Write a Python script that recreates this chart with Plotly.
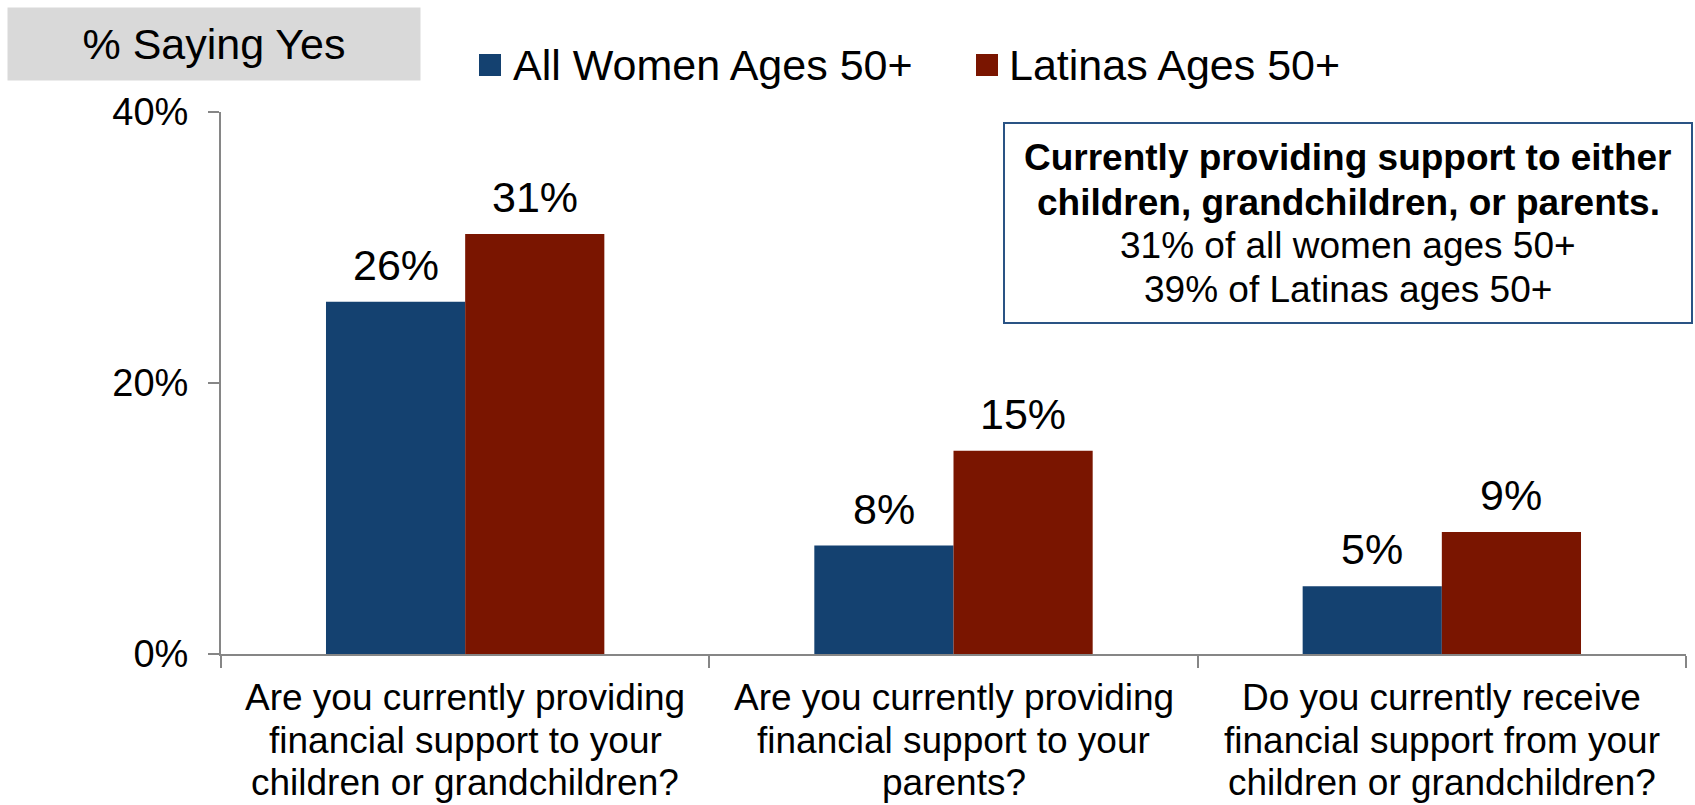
import plotly.graph_objects as go

# ---- data ----
categories = [
    "Are you currently providing<br>financial support to your<br>children or grandchildren?",
    "Are you currently providing<br>financial support to your<br>parents?",
    "Do you currently receive<br>financial support from your<br>children or grandchildren?",
]
series_names = ["All Women Ages 50+", "Latinas Ages 50+"]
all_women = [26, 8, 5]
latinas = [31, 15, 9]
y_tick_vals = [0, 20, 40]
y_tick_text = ["0%", "20%", "40%"]
header_text = "% Saying Yes"
box_lines = [
    "<b>Currently providing support to either</b>",
    "<b>children, grandchildren, or parents.</b>",
    "31% of all women ages 50+",
    "39% of Latinas ages 50+",
]

# ---- style ----
FONT = "Arial, Liberation Sans, sans-serif"
BLUE = "#144170"
RED = "#7A1500"
AXIS = "#868686"
BOXLINE = "#2A5384"
COLORS = [BLUE, RED]
BARGAP = 0.43
W, H = 1695, 805
ML, MR, MT, MB = 221, 9, 112, 151
PW = W - ML - MR
PH = H - MT - MB


def px_x(p):
    return (p - ML) / PW


def px_y(p):
    return 1 - (p - MT) / PH


fig = go.Figure()
for name, vals, col in zip(series_names, (all_women, latinas), COLORS):
    fig.add_trace(go.Bar(x=categories, y=vals, name=name, showlegend=False,
                         hoverinfo="skip",
                         marker=dict(color=col, line=dict(width=0))))

# value labels placed through data coordinates
bar_w = (1 - BARGAP) / 2
for vals, off in ((all_women, -bar_w / 2), (latinas, bar_w / 2)):
    for i, v in enumerate(vals):
        fig.add_annotation(x=i + off, y=v, xref="x", yref="y", text=f"{v}%",
                           showarrow=False, yanchor="bottom", yshift=11,
                           font=dict(family=FONT, size=43, color="black"))

# category labels (one annotation per line for tighter line spacing)
label_line_y = [697, 740, 782]
for i, cat in enumerate(categories):
    for ly, part in zip(label_line_y, cat.split("<br>")):
        fig.add_annotation(x=i, xref="x", yref="paper", y=px_y(ly),
                           xanchor="center", yanchor="middle", text=part,
                           showarrow=False, borderpad=0,
                           font=dict(family=FONT, size=37, color="black"))

# legend (drawn manually for larger swatches)
legend_pos = [(479, 512), (976, 1008)]
for (sx, tx), name, col in zip(legend_pos, series_names, COLORS):
    fig.add_shape(type="rect", xref="paper", yref="paper",
                  x0=px_x(sx), x1=px_x(sx + 22), y0=px_y(76), y1=px_y(54),
                  line=dict(width=0), fillcolor=col)
    fig.add_annotation(xref="paper", yref="paper", x=px_x(tx), y=px_y(65),
                       xanchor="left", yanchor="middle", text=name,
                       showarrow=False, borderpad=0,
                       font=dict(family=FONT, size=43, color="black"))

# header box
fig.add_annotation(xref="paper", yref="paper", x=px_x(214), y=px_y(44),
                   xanchor="center", yanchor="middle", text=header_text,
                   showarrow=False, bgcolor="#D9D9D9", width=412, height=72,
                   borderpad=0, font=dict(family=FONT, size=43, color="black"))

# info box
fig.add_shape(type="rect", xref="paper", yref="paper",
              x0=px_x(1004), x1=px_x(1692), y0=px_y(323), y1=px_y(123),
              line=dict(color=BOXLINE, width=2), fillcolor="white")
line_y = [158, 202, 245.5, 289]
for ly, txt in zip(line_y, box_lines):
    fig.add_annotation(xref="paper", yref="paper", x=px_x(1348), y=px_y(ly),
                       xanchor="center", yanchor="middle", text=txt,
                       showarrow=False, borderpad=0,
                       font=dict(family=FONT, size=37, color="black"))

fig.update_layout(
    width=W, height=H, autosize=False,
    margin=dict(l=ML, r=MR, t=MT, b=MB, autoexpand=False),
    paper_bgcolor="white", plot_bgcolor="white",
    barmode="group", bargap=BARGAP, bargroupgap=0,
    font=dict(family=FONT, color="black"),
    showlegend=False,
    xaxis=dict(type="category", showline=True, linecolor=AXIS, linewidth=2,
               ticks="outside", tickson="boundaries", ticklen=12,
               tickcolor=AXIS, tickwidth=1.5, showgrid=False,
               automargin=False, showticklabels=False,
               range=[-0.5, 2.5]),
    yaxis=dict(range=[0, 40], tickvals=y_tick_vals, ticktext=y_tick_text,
               showline=True, linecolor=AXIS, linewidth=2, ticks="outside",
               ticklen=11, tickcolor=AXIS, tickwidth=1.5, showgrid=False,
               zeroline=False, ticklabelstandoff=12, automargin=False,
               tickfont=dict(family=FONT, size=38, color="black")),
)

fig.write_html(
    "out.html",
    config={"displayModeBar": False},
    post_script="document.body.style.margin='0';document.body.style.overflow='hidden';",
)
